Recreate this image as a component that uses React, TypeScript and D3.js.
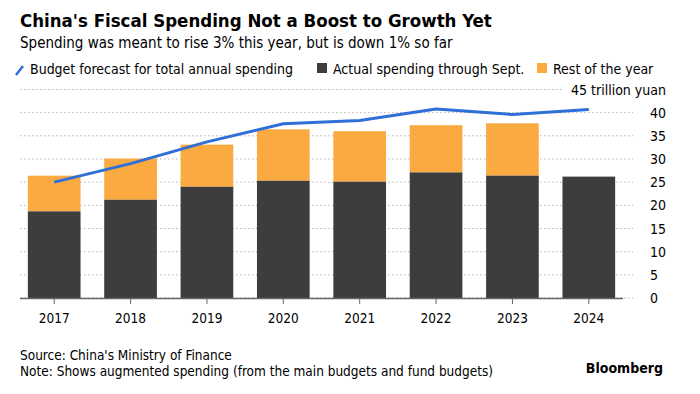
import React from "react";
import * as d3 from "d3";

const years = ["2017", "2018", "2019", "2020", "2021", "2022", "2023", "2024"];
const actual = [18.7, 21.2, 24.0, 25.3, 25.1, 27.1, 26.4, 26.2];
const total = [26.4, 30.1, 33.1, 36.4, 36.0, 37.3, 37.7, null];
const budget = [25.0, 29.0, 33.7, 37.6, 38.3, 40.8, 39.6, 40.7];
const yTicks = [0, 5, 10, 15, 20, 25, 30, 35, 40];

const W = 700;
const H = 394;
const FONT = "'DejaVu Sans Condensed', 'DejaVu Sans', sans-serif";

export default function App() {
  const x = d3.scaleBand().domain(years).range([16, 627]).paddingInner(0.31).paddingOuter(0.155);
  const y = d3.scaleLinear().domain([0, 45]).range([298, 89.5]);

  const line = d3
    .line<number>()
    .x((_, i) => (x(years[i]) as number) + x.bandwidth() / 2)
    .y((d) => y(d));

  return (
    <svg width={W} height={H} style={{ position: "absolute", left: 0, top: 0, background: "#fff" }} fontFamily={FONT}>
      <text x={20} y={27} fontSize={18.5} fontWeight="bold" fill="#000">
        China's Fiscal Spending Not a Boost to Growth Yet
      </text>
      <text x={20} y={48} fontSize={15} fill="#000">
        Spending was meant to rise 3% this year, but is down 1% so far
      </text>

      {/* legend */}
      <line x1={16} y1={75} x2={23} y2={66} stroke="#2f6fd8" strokeWidth={2.5} />
      <text x={30} y={74} fontSize={14} fill="#000">Budget forecast for total annual spending</text>
      <rect x={317} y={63} width={10} height={10} fill="#3d3d3d" />
      <text x={333} y={74} fontSize={14} fill="#000">Actual spending through Sept.</text>
      <rect x={537} y={63} width={10} height={10} fill="#fbaa42" />
      <text x={553} y={74} fontSize={14} fill="#000">Rest of the year</text>

      {/* grid */}
      {yTicks.map((t) => (
        <g key={t}>
          <line x1={20} x2={633} y1={y(t)} y2={y(t)} stroke="#b5b5b5" strokeDasharray="1.5,2.5" />
          <text x={650} y={y(t) + 5} fontSize={14} fill="#000">{t}</text>
        </g>
      ))}
      <line x1={20} x2={563} y1={y(45)} y2={y(45)} stroke="#b5b5b5" strokeDasharray="1.5,2.5" />
      <text x={666} y={y(45) + 5} fontSize={14} textAnchor="end" fill="#000">45 trillion yuan</text>

      {/* bars */}
      {years.map((yr, i) => (
        <g key={yr}>
          {total[i] != null && (
            <rect x={x(yr)} y={y(total[i] as number)} width={x.bandwidth()} height={y(actual[i]) - y(total[i] as number)} fill="#fbaa42" />
          )}
          <rect x={x(yr)} y={y(actual[i])} width={x.bandwidth()} height={y(0) - y(actual[i])} fill="#3d3d3d" />
        </g>
      ))}

      <path d={line(budget) || ""} fill="none" stroke="#2f6fd8" strokeWidth={3} strokeLinejoin="round" />

      {/* x axis */}
      <line x1={20} x2={623} y1={298.5} y2={298.5} stroke="#666" strokeWidth={1.5} />
      {years.map((yr) => {
        const cx = (x(yr) as number) + x.bandwidth() / 2;
        return (
          <g key={yr}>
            <line x1={cx} x2={cx} y1={298} y2={304} stroke="#666" strokeWidth={1} />
            <text x={cx} y={323} fontSize={13.5} textAnchor="middle" fill="#000">{yr}</text>
          </g>
        );
      })}

      <text x={20} y={360} fontSize={13.5} fill="#000">Source: China's Ministry of Finance</text>
      <text x={20} y={376} fontSize={13.5} fill="#000">Note: Shows augmented spending (from the main budgets and fund budgets)</text>
      <text x={663} y={373} fontSize={14} fontWeight="bold" textAnchor="end" fill="#000">Bloomberg</text>
    </svg>
  );
}
